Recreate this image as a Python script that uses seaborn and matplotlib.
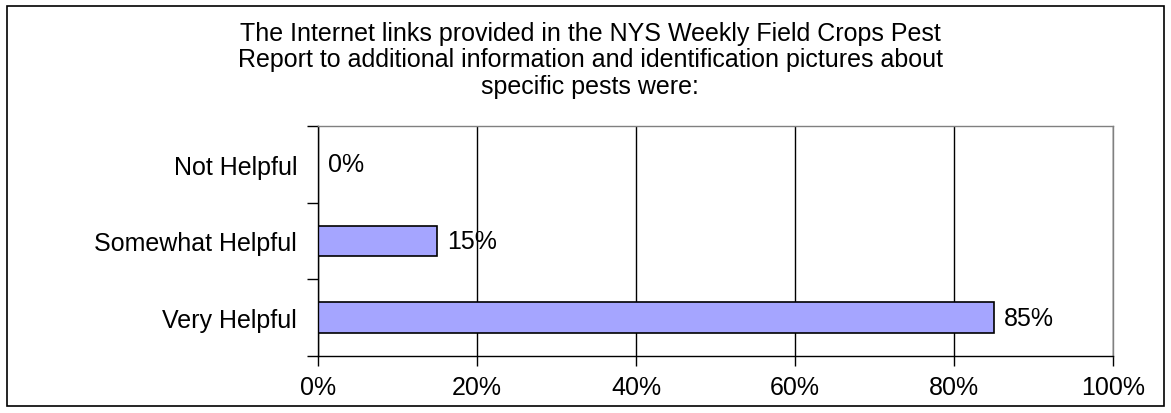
import pandas as pd
import seaborn as sns
import matplotlib.pyplot as plt
from matplotlib.patches import Rectangle
from matplotlib.ticker import FixedLocator, PercentFormatter

# Data
categories = ["Not Helpful", "Somewhat Helpful", "Very Helpful"]
percents = [0, 15, 85]
title = ("The Internet links provided in the NYS Weekly Field Crops Pest\n"
         "Report to additional information and identification pictures about\n"
         "specific pests were:")

df = pd.DataFrame({"rating": categories, "percent": percents})

sns.set_style("white")
plt.rcParams["font.family"] = ["Liberation Sans", "DejaVu Sans"]
FS = 18

fig = plt.figure(figsize=(11.71, 4.14), dpi=100)
ax = fig.add_axes([0.2716, 0.1377, 0.679, 0.5556])

sns.barplot(
    data=df,
    x="percent",
    y="rating",
    order=categories,
    color="#A5A5FF",
    edgecolor="black",
    linewidth=1.2,
    width=0.4,
    saturation=1,
    ax=ax
)

ax.bar_label(ax.containers[0], labels=[f"{p}%" for p in percents],
             padding=7, fontsize=FS, color="black")

ax.set_xlim(0, 100)
ax.set_ylim(2.5, -0.5)
ax.set_xticks([0, 20, 40, 60, 80, 100])
ax.xaxis.set_major_formatter(PercentFormatter(decimals=0))
ax.xaxis.grid(True, color="black", linewidth=1)
ax.set_axisbelow(True)

# category boundary ticks on the y axis
ax.yaxis.set_minor_locator(FixedLocator([-0.5, 0.5, 1.5, 2.5]))
ax.tick_params(axis="y", which="major", length=0, pad=15, labelsize=FS,
               labelcolor="black")
ax.tick_params(axis="y", which="minor", left=True, length=8, width=1, color="black")
ax.tick_params(axis="x", which="major", bottom=True, length=7, width=1,
               color="black", pad=7, labelsize=FS, labelcolor="black")

ax.set_xlabel("")
ax.set_ylabel("")

for side in ["top", "right"]:
    ax.spines[side].set_color("#808080")
for side in ["left", "bottom"]:
    ax.spines[side].set_color("black")
for s in ax.spines.values():
    s.set_linewidth(1)

fig.text(0.504, 0.947, title, ha="center", va="top", fontsize=FS,
         linespacing=1.12, color="black")

# outer chart border
fig.patches.append(Rectangle((0.006, 0.017), 0.988, 0.966, transform=fig.transFigure,
                             fill=False, edgecolor="black", linewidth=1.2))

plt.savefig("out.png", dpi=100)
